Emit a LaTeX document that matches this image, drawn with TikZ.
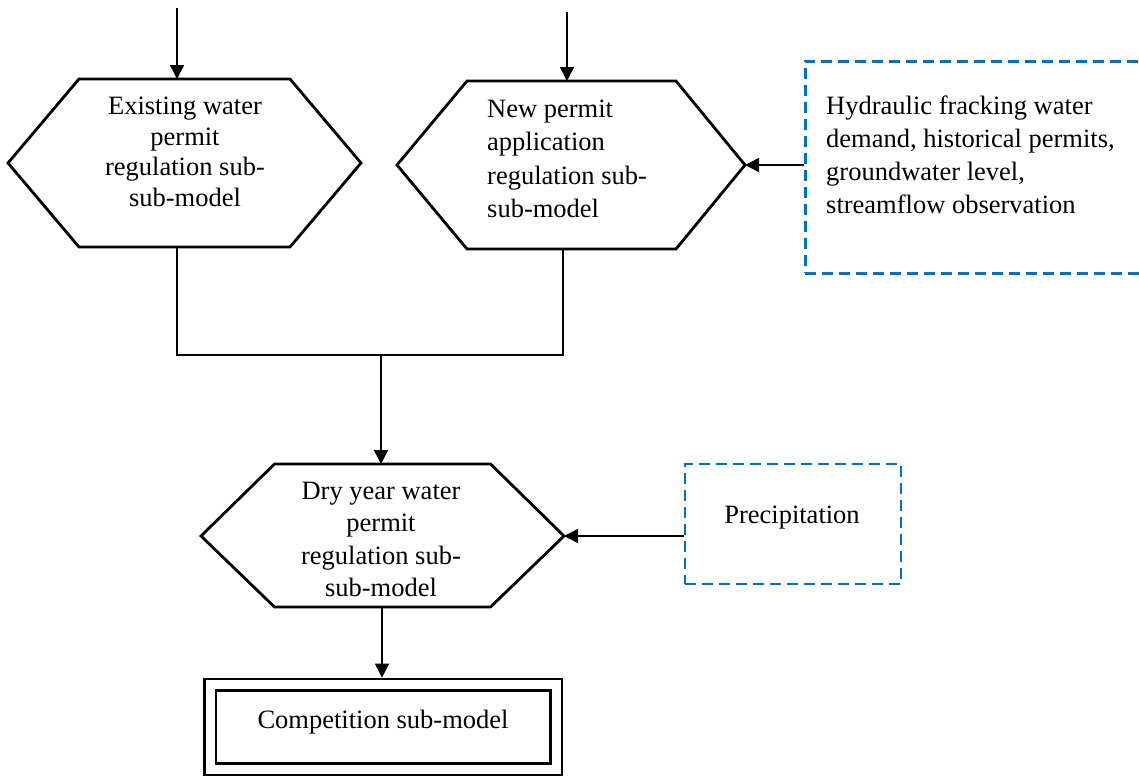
\documentclass[tikz,border=0pt]{standalone}
\usepackage{fontspec}
\setmainfont{Liberation Serif}
\usetikzlibrary{arrows.meta}
\definecolor{dashblue}{RGB}{0,112,192}
\begin{document}
\begin{tikzpicture}[x=1pt,y=-1pt,
  hexline/.style={line width=2.8pt, line join=miter},
  conn/.style={line width=1.4pt},
  arr/.style={conn, -{Triangle[length=14pt,width=14pt]}},
  txt/.style={inner sep=0pt, font=\fontsize{26.5}{#1}\selectfont},
  txt/.default=33,
  dbox/.style={draw=dashblue, line width=2.8pt, dash pattern=on 11pt off 6pt, inner sep=0pt},
]
\clip (0,0) rectangle (1139,776);

% upper left process: existing permits
\draw[hexline] (8,163) -- (79,79) -- (290,79) -- (361,163) -- (290,247) -- (79,247) -- cycle;
\coordinate (h1top) at (177,79);
\coordinate (h1bot) at (177,247);
\node[txt=30.7, align=center] (h1) at (185,152)
  {Existing water\\permit\\regulation sub-\\sub-model};

% upper right process: new applications
\draw[hexline] (397,165) -- (467,81) -- (676,81) -- (745,165) -- (676,249) -- (467,249) -- cycle;
\coordinate (h2top) at (567,81);
\coordinate (h2bot) at (563,249);
\coordinate (h2right) at (745,165);
\node[txt=33.3, align=left, anchor=west] (h2) at (487,159)
  {New permit\\application\\regulation sub-\\sub-model};

% lower process: dry year
\draw[hexline] (201,536) -- (274.5,464) -- (490.5,464) -- (564,536) -- (490.5,607) -- (274.5,607) -- cycle;
\coordinate (h3top) at (381,464);
\coordinate (h3bot) at (382,607);
\coordinate (h3right) at (564,536);
\node[txt=32.3, align=center] (h3) at (381,539.5)
  {Dry year water\\permit\\regulation sub-\\sub-model};

% input data
\node[dbox, minimum width=341pt, minimum height=212pt, anchor=north west] (d1) at (804,60) {};
\node[txt=33, align=left, anchor=west] (d1t) at (826,154.5)
  {Hydraulic fracking water\\demand, historical permits,\\groundwater level,\\streamflow observation};

\node[dbox, minimum width=216pt, minimum height=120pt] (p) at (793,524) {};
\node[txt, anchor=base] (pt) at (792,523) {Precipitation};

% output model
\node[draw, line width=2.6pt, double, double distance=9pt, minimum width=346pt,
      minimum height=84.5pt, inner sep=0pt, outer sep=7.1pt] (comp) at (383,727) {};
\node[txt, anchor=base] (compt) at (383,728) {Competition sub-model};

% connectors
\coordinate (in1) at (177,8);
\coordinate (in2) at (567,12);
\coordinate (j1) at (177,355);
\coordinate (j2) at (563,355);
\coordinate (merge) at (381,355);

\draw[arr] (in1) -- (h1top);
\draw[arr] (in2) -- (h2top);
\draw[conn] (h1bot) -- (j1) -- (j2) -- (h2bot);
\draw[arr] (merge) -- (h3top);
\draw[arr] (d1.west |- h2right) -- (h2right);
\draw[arr] (p.west |- h3right) -- (h3right);
\draw[arr] (h3bot) -- (comp.north -| h3bot);
\end{tikzpicture}
\end{document}
